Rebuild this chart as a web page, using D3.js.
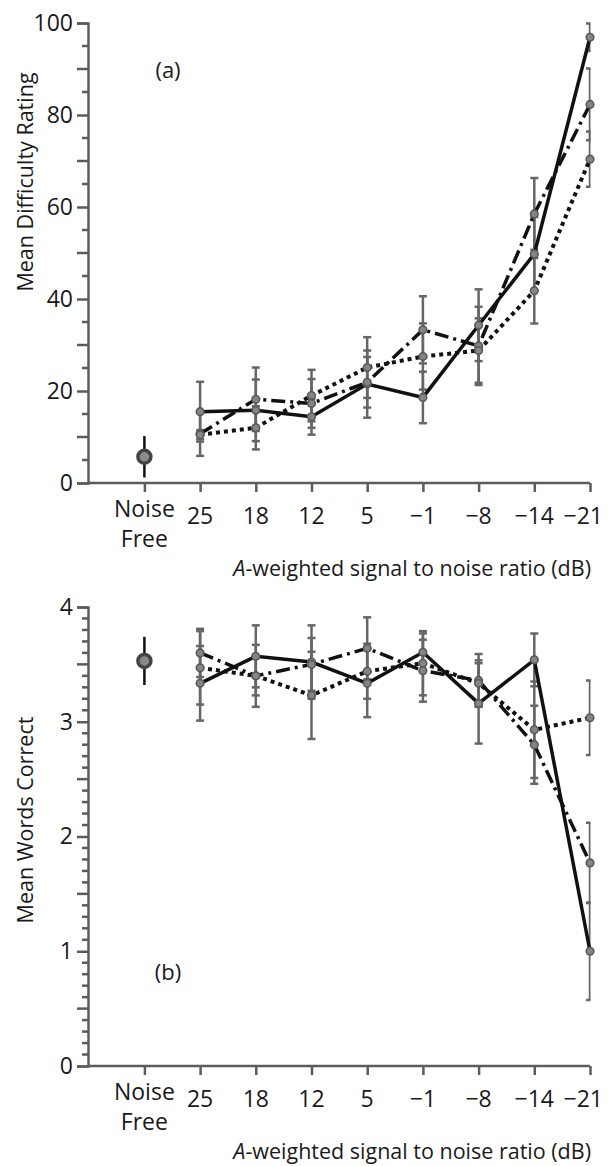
<!DOCTYPE html>
<html>
<head>
<meta charset="utf-8">
<script src="https://cdn.jsdelivr.net/npm/d3@7"></script>
<style>
  body { margin: 0; background: #fff; }
  svg { display: block; }
  text { font-family: "Open Sans", "Noto Sans", sans-serif; fill: #1a1a1a; }
</style>
</head>
<body>
<div id="chart"></div>
<script>
// categories on the x axis
const categories = ["Noise Free", "25", "18", "12", "5", "\u22121", "\u22128", "\u221214", "\u221221"];
const snrLevels = categories.slice(1);

// (a) mean difficulty rating
const noiseFreeDifficulty = 5.7;
const noiseFreeDifficultyErr = 4.5;
const difficultySolid = [15.5, 15.8, 14.4, 21.5, 18.6, 34.3, 49.8, 96.9];
const difficultySolidErr = [6.5, 6.7, 3.9, 7.3, 5.6, 7.8, 8.0, 3.0];
const difficultyDashed = [10.7, 18.2, 17.3, 21.9, 33.3, 29.8, 58.5, 82.3];
const difficultyDashedErr = [4.8, 6.9, 5.3, 5.5, 7.3, 8.5, 7.8, 7.8];
const difficultyDotted = [10.5, 12.0, 19.0, 25.1, 27.5, 28.8, 41.8, 70.4];
const difficultyDottedErr = [1.0, 4.7, 5.6, 6.6, 7.2, 7.0, 7.1, 6.0];

// (b) mean words correct
const noiseFreeWords = 3.53;
const noiseFreeWordsErr = 0.21;
const wordsSolid = [3.335, 3.57, 3.52, 3.335, 3.605, 3.16, 3.54, 1.00];
const wordsSolidErr = [0.325, 0.27, 0.32, 0.295, 0.165, 0.35, 0.23, 0.425];
const wordsDashed = [3.60, 3.40, 3.50, 3.64, 3.445, 3.36, 2.80, 1.77];
const wordsDashedErr = [0.21, 0.27, 0.23, 0.27, 0.27, 0.23, 0.34, 0.35];
const wordsDotted = [3.47, 3.40, 3.23, 3.44, 3.51, 3.335, 2.93, 3.035];
const wordsDottedErr = [0.32, 0.17, 0.38, 0.24, 0.28, 0.2, 0.42, 0.325];

const width = 608, height = 1166;
const axisLeftX = 88, axisRightX = 590;
const axisColor = "#5c5c5c", errColor = "#666";
const tickFont = 23, titleFont = 21.5;

const svg = d3.select("#chart").append("svg")
    .attr("width", width)
    .attr("height", height);

const x = d3.scalePoint()
    .domain(categories)
    .range([144.4, 590]);

const lineStyles = { solid: null, dashed: "14,5,3,5", dotted: "4,4" };

function drawPanel(cfg) {
    let y = cfg.y;
    let g = svg.append("g");

    // clip error bars at the right end of the x axis
    g.append("clipPath").attr("id", "clip-" + cfg.id)
        .append("rect")
        .attr("x", 0).attr("y", 0)
        .attr("width", axisRightX + 0.5).attr("height", height);

    // y axis: labelled major ticks
    let yAxis = d3.axisLeft(y)
        .tickValues(cfg.labelTicks)
        .tickSize(11)
        .tickPadding(4)
        .tickFormat(d3.format("d"));
    let ya = g.append("g")
        .attr("transform", `translate(${axisLeftX},0)`)
        .call(yAxis);
    ya.select(".domain").attr("stroke", axisColor).attr("stroke-width", 2.5);
    ya.selectAll(".tick line").attr("stroke", axisColor).attr("stroke-width", 2.5);
    ya.selectAll(".tick text").style("font-size", tickFont + "px").attr("fill", "#1a1a1a");

    // medium and minor ticks
    g.append("g").selectAll("line")
        .data(cfg.minorTicks)
        .join("line")
        .attr("x1", d => axisLeftX - (cfg.isMedium(d) ? 11 : 6))
        .attr("x2", axisLeftX)
        .attr("y1", d => y(d)).attr("y2", d => y(d))
        .attr("stroke", axisColor)
        .attr("stroke-width", 2.5);

    // x axis
    let y0 = y.range()[0];
    let xAxis = d3.axisBottom(x).tickSize(9).tickFormat("");
    let xa = g.append("g")
        .attr("transform", `translate(0,${y0})`)
        .call(xAxis);
    xa.select(".domain").remove();
    xa.selectAll(".tick line").attr("stroke", axisColor).attr("stroke-width", 2.5);
    g.append("line")
        .attr("x1", axisLeftX).attr("x2", axisRightX)
        .attr("y1", y0).attr("y2", y0)
        .attr("stroke", axisColor).attr("stroke-width", 2.5);

    // x tick labels (last one kept inside the page)
    g.append("g").selectAll("text")
        .data(snrLevels)
        .join("text")
        .attr("x", d => x(d))
        .attr("y", y0 + 41)
        .attr("text-anchor", "middle")
        .style("font-size", tickFont + "px")
        .text(d => d)
        .each(function (d) {
            let half = this.getComputedTextLength() / 2;
            if (x(d) + half > width - 5) d3.select(this).attr("x", width - 5 - half);
        });
    let nf = g.append("text")
        .attr("text-anchor", "middle")
        .style("font-size", tickFont + "px");
    nf.append("tspan").attr("x", x("Noise Free")).attr("y", y0 + 34).text("Noise");
    nf.append("tspan").attr("x", x("Noise Free")).attr("y", y0 + 64).text("Free");

    // x axis title
    let xt = g.append("text")
        .attr("x", axisRightX + 1)
        .attr("y", y0 + 93)
        .attr("text-anchor", "end")
        .style("font-size", titleFont + "px");
    xt.append("tspan").style("font-style", "italic").text("A");
    xt.append("tspan").text("-weighted signal to noise ratio (dB)");

    // y axis title
    g.append("text")
        .attr("transform", `translate(33,${cfg.titleY}) rotate(-90)`)
        .attr("text-anchor", "middle")
        .style("font-size", titleFont + "px")
        .text(cfg.yTitle);

    // panel letter
    g.append("text")
        .attr("x", 168).attr("y", cfg.letterY)
        .attr("text-anchor", "middle")
        .style("font-size", "22px")
        .text(cfg.letter);

    // error bars
    let eb = g.append("g").attr("clip-path", `url(#clip-${cfg.id})`);
    cfg.series.forEach(s => {
        let pts = s.values.map((v, i) => ({ cat: snrLevels[i], v: v, e: s.err[i] }));
        let bars = eb.append("g").selectAll("g")
            .data(pts)
            .join("g")
            .attr("stroke", errColor)
            .attr("stroke-width", 2.5);
        bars.append("line")
            .attr("x1", d => x(d.cat)).attr("x2", d => x(d.cat))
            .attr("y1", d => y(d.v - d.e)).attr("y2", d => y(d.v + d.e));
        bars.append("line")
            .attr("x1", d => x(d.cat) - 4).attr("x2", d => x(d.cat) + 4)
            .attr("y1", d => y(d.v + d.e)).attr("y2", d => y(d.v + d.e));
        bars.append("line")
            .attr("x1", d => x(d.cat) - 4).attr("x2", d => x(d.cat) + 4)
            .attr("y1", d => y(d.v - d.e)).attr("y2", d => y(d.v - d.e));
    });

    // lines
    let line = d3.line()
        .x((d, i) => x(snrLevels[i]))
        .y(d => y(d));
    cfg.series.forEach(s => {
        g.append("path")
            .datum(s.values)
            .attr("d", line)
            .attr("fill", "none")
            .attr("stroke", "#111")
            .attr("stroke-width", s.style === "dotted" ? 4 : 3.5)
            .attr("stroke-dasharray", lineStyles[s.style]);
    });

    // markers
    cfg.series.forEach(s => {
        g.append("g").selectAll("circle")
            .data(s.values)
            .join("circle")
            .attr("cx", (d, i) => x(snrLevels[i]))
            .attr("cy", d => y(d))
            .attr("r", 3.8)
            .attr("fill", "#858585")
            .attr("stroke", "#5a5a5a")
            .attr("stroke-width", 1.6);
    });

    // noise free reference point
    g.append("line")
        .attr("x1", x("Noise Free")).attr("x2", x("Noise Free"))
        .attr("y1", y(cfg.nf - cfg.nfErr)).attr("y2", y(cfg.nf + cfg.nfErr))
        .attr("stroke", "#111").attr("stroke-width", 2.5);
    g.append("circle")
        .attr("cx", x("Noise Free")).attr("cy", y(cfg.nf))
        .attr("r", 6.5)
        .attr("fill", "#8a8a8a")
        .attr("stroke", "#444")
        .attr("stroke-width", 3.5);
}

drawPanel({
    id: "a",
    y: d3.scaleLinear().domain([0, 100]).range([483, 23]),
    labelTicks: [0, 20, 40, 60, 80, 100],
    minorTicks: d3.range(5, 100, 5).filter(d => d % 20 !== 0),
    isMedium: d => d % 10 === 0,
    yTitle: "Mean Difficulty Rating",
    titleY: 182,
    letter: "(a)",
    letterY: 78,
    nf: noiseFreeDifficulty,
    nfErr: noiseFreeDifficultyErr,
    series: [
        { values: difficultySolid, err: difficultySolidErr, style: "solid" },
        { values: difficultyDashed, err: difficultyDashedErr, style: "dashed" },
        { values: difficultyDotted, err: difficultyDottedErr, style: "dotted" }
    ]
});

drawPanel({
    id: "b",
    y: d3.scaleLinear().domain([0, 4]).range([1066, 607]),
    labelTicks: [0, 1, 2, 3, 4],
    minorTicks: d3.range(1, 40).map(d => d / 10).filter((d, i) => (i + 1) % 10 !== 0),
    isMedium: d => Math.abs(d * 2 - Math.round(d * 2)) < 1e-6,
    yTitle: "Mean Words Correct",
    titleY: 820,
    letter: "(b)",
    letterY: 980,
    nf: noiseFreeWords,
    nfErr: noiseFreeWordsErr,
    series: [
        { values: wordsSolid, err: wordsSolidErr, style: "solid" },
        { values: wordsDashed, err: wordsDashedErr, style: "dashed" },
        { values: wordsDotted, err: wordsDottedErr, style: "dotted" }
    ]
});
</script>
</body>
</html>
